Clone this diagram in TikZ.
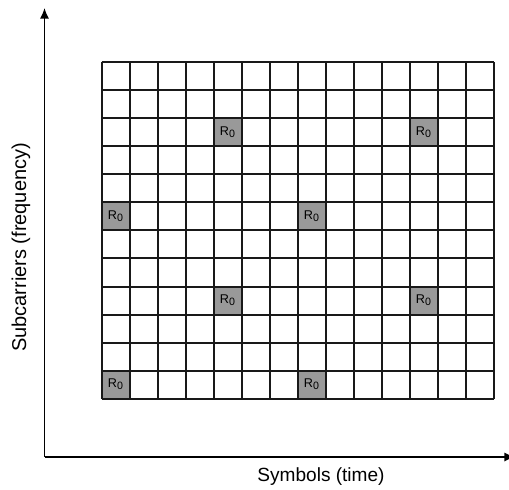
\documentclass[tikz,border=0pt]{standalone}
\usepackage{fontspec}
\setmainfont{Liberation Sans}
\usetikzlibrary{arrows.meta}

\newcommand{\refsym}{R\raisebox{-0.3ex}{\fontsize{8}{9}\selectfont 0}}

\begin{document}
\begin{tikzpicture}[x=0.75pt, y=0.75pt]
\tikzset{pilot/.style={fill={rgb,255:red,153;green,153;blue,153}, minimum width=21pt, minimum height=21pt, inner sep=0pt, font=\fontsize{9.5}{10}\selectfont}}
\tikzset{gridline/.style={line width=1.5pt, black!90}}
\tikzset{axis/.style={line width=1.2pt, -{Latex[length=8pt, width=7pt]}}}
\useasboundingbox (0,0) rectangle (509,489);
% reference symbols
\node[pilot] (r42) at (227.5,356.5) {\refsym};
\node[pilot] (r112) at (423.5,356.5) {\refsym};
\node[pilot] (r05) at (115.5,272.5) {\refsym};
\node[pilot] (r75) at (311.5,272.5) {\refsym};
\node[pilot] (r48) at (227.5,188.5) {\refsym};
\node[pilot] (r118) at (423.5,188.5) {\refsym};
\node[pilot] (r011) at (115.5,104.5) {\refsym};
\node[pilot] (r711) at (311.5,104.5) {\refsym};
% resource grid, 14 symbols x 12 subcarriers
\foreach \i in {0,...,14}
  \draw[gridline] (101.5+28*\i,90.5) -- (101.5+28*\i,426.5);
\foreach \j in {0,...,12}
  \draw[gridline] (101.5,90.5+28*\j) -- (493.5,90.5+28*\j);
% axes
\coordinate (origin) at (44.5,32);
\coordinate (ytip) at (44.5,481);
\coordinate (xtip) at (515,32);
\draw[axis] (origin) -- (ytip);
\draw[axis] (origin) -- (xtip);
\node[font=\fontsize{15}{17}\selectfont, rotate=90] (ylabel) at (21,241.5) {Subcarriers (frequency)};
\node[font=\fontsize{14.3}{16}\selectfont] (xlabel) at (321,12) {Symbols (time)};
\end{tikzpicture}
\end{document}
